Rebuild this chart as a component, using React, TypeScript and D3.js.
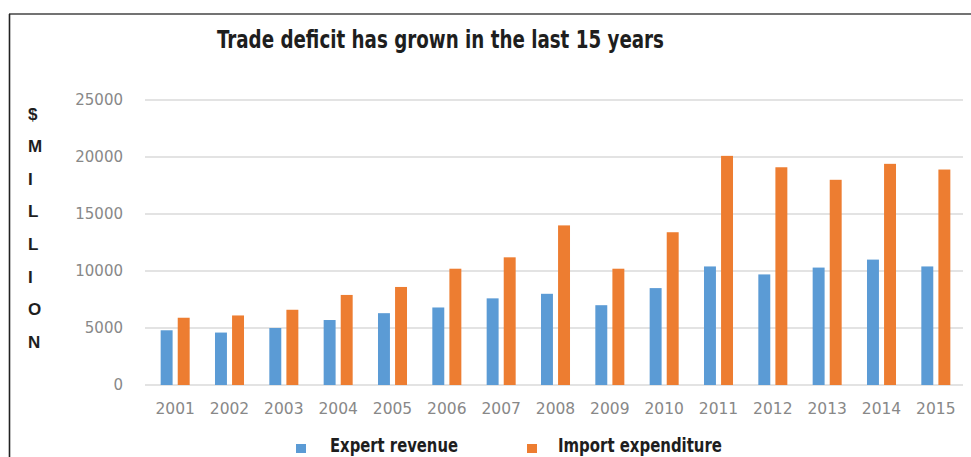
import React from "react";
import * as d3 from "d3";

const years = ["2001","2002","2003","2004","2005","2006","2007","2008","2009","2010","2011","2012","2013","2014","2015"];
const exportRevenue = [4800, 4600, 5000, 5700, 6300, 6800, 7600, 8000, 7000, 8500, 10400, 9700, 10300, 11000, 10400];
const importExpenditure = [5900, 6100, 6600, 7900, 8600, 10200, 11200, 14000, 10200, 13400, 20100, 19100, 18000, 19400, 18900];
const yTicks = [0, 5000, 10000, 15000, 20000, 25000];
const seriesNames = ["Expert revenue", "Import expenditure"];
const seriesColors = ["#5B9BD5", "#ED7D31"];
const axisLetters = ["$", "M", "I", "L", "L", "I", "O", "N"];
const title = "Trade deficit has grown in the last 15 years";

const W = 971;
const H = 457;

export default function App() {
  const x0 = d3.scaleBand<string>().domain(years).range([148, 963]).paddingInner(0.466).paddingOuter(0.233);
  const x1 = d3.scaleBand<number>().domain([0, 1]).range([0, x0.bandwidth()]).paddingInner(0.3);
  const y = d3.scaleLinear().domain([0, 25000]).range([385, 100]);
  const series = [exportRevenue, importExpenditure];
  const condensed = "'Liberation Sans Narrow', 'DejaVu Sans Condensed', 'Arial Narrow', sans-serif";

  return (
    <svg width={W} height={H} style={{ position: "absolute", left: 0, top: 0, background: "#fff" }}>
      <rect x={0} y={0} width={W} height={H} fill="#fff" />
      {/* frame */}
      <line x1={9} x2={W} y1={14} y2={14} stroke="#444" strokeWidth={1.6} />
      <line x1={9.5} x2={9.5} y1={14} y2={H} stroke="#222" strokeWidth={1.6} />

      {/* title */}
      <text x={217} y={48} fontFamily={condensed} fontWeight="bold" fontSize={25} fill="#1e1e1e"
        textLength={447} lengthAdjust="spacingAndGlyphs">{title}</text>

      {/* y axis title letters */}
      {axisLetters.map((c, i) => (
        <text key={i} x={28} y={114 + i * 32.6} dominantBaseline="central" fontFamily="'Liberation Sans', Arial, sans-serif"
          fontWeight="bold" fontSize={17} fill="#1e1e1e">{c}</text>
      ))}

      {/* gridlines and y labels */}
      {yTicks.map((t) => (
        <g key={t}>
          <line x1={145} x2={963} y1={y(t)} y2={y(t)} stroke="#dadada" strokeWidth={1.5} />
          <text x={123} y={y(t)} textAnchor="end" dominantBaseline="central" fontFamily="'DejaVu Sans', sans-serif"
            fontSize={15} fill="#888">{t}</text>
        </g>
      ))}

      {/* bars */}
      {years.map((yr, i) => (
        <g key={yr} transform={`translate(${x0(yr)},0)`}>
          {series.map((s, k) => (
            <rect key={k} x={x1(k)} y={y(s[i])} width={x1.bandwidth()} height={y(0) - y(s[i])} fill={seriesColors[k]} />
          ))}
        </g>
      ))}

      {/* x labels */}
      {years.map((yr) => (
        <text key={yr} x={(x0(yr) as number) + x0.bandwidth() / 2} y={409} textAnchor="middle" dominantBaseline="central"
          fontFamily="'DejaVu Sans', sans-serif" fontSize={15.5} fill="#888">{yr}</text>
      ))}

      {/* legend */}
      <rect x={296} y={444} width={10} height={9} fill={seriesColors[0]} />
      <text x={330} y={452} fontFamily={condensed} fontWeight="bold" fontSize={20} fill="#1e1e1e"
        textLength={128} lengthAdjust="spacingAndGlyphs">{seriesNames[0]}</text>
      <rect x={527} y={444} width={10} height={9} fill={seriesColors[1]} />
      <text x={558} y={452} fontFamily={condensed} fontWeight="bold" fontSize={20} fill="#1e1e1e"
        textLength={164} lengthAdjust="spacingAndGlyphs">{seriesNames[1]}</text>
    </svg>
  );
}
